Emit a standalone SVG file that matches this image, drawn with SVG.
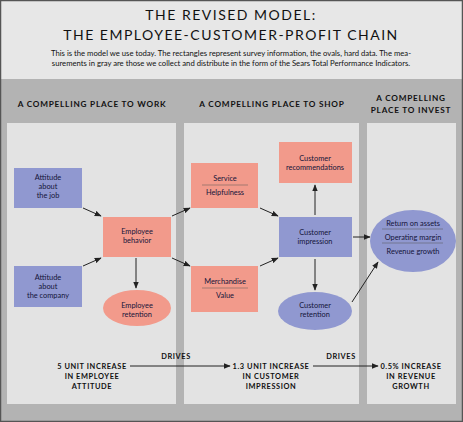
<svg xmlns="http://www.w3.org/2000/svg" width="463" height="422" viewBox="0 0 463 422">
<defs>
<marker id="ah" viewBox="0 0 10 10" refX="9" refY="5" markerWidth="7" markerHeight="7" orient="auto" markerUnits="userSpaceOnUse">
<path d="M0,1 L10,5 L0,9 z" fill="#222"/>
</marker>
<style>
.t{font-family:"Lato","Open Sans","DejaVu Sans",sans-serif;fill:#111;text-anchor:middle}
.title{font-size:14px;letter-spacing:1.5px}
.para{font-size:7.7px;text-anchor:middle}
.head{font-size:8.2px;font-weight:bold;letter-spacing:0.8px}
.nd{font-size:7.4px;fill:#14143a}
.big{font-size:7.4px;font-weight:bold;letter-spacing:0.6px}
.blue{fill:#9098d0}
.sal{fill:#f29a8b}
.panel{fill:#e3e3e3}
.con{stroke:#222;stroke-width:1;fill:none;marker-end:url(#ah)}
.sep{stroke:#555;stroke-width:0.5}
</style>
</defs>
<rect x="0" y="0" width="463" height="422" fill="#e7e7e7"/>
<rect x="0" y="79" width="463" height="343" fill="#b3b3b3"/>
<rect x="0.5" y="0.5" width="462" height="421" fill="none" stroke="#555" stroke-width="1.5"/>
<text class="t title" x="231" y="20">THE REVISED MODEL:</text>
<text class="t title" x="231" y="40">THE EMPLOYEE-CUSTOMER-PROFIT CHAIN</text>
<text class="t para" x="231" y="56">This is the model we use today. The rectangles represent survey information, the ovals, hard data. The mea-</text>
<text class="t para" x="231" y="66">surements in gray are those we collect and distribute in the form of the Sears Total Performance Indicators.</text>
<text class="t head" x="92" y="107">A COMPELLING PLACE TO WORK</text>
<text class="t head" x="272" y="107">A COMPELLING PLACE TO SHOP</text>
<text class="t head" x="411" y="101">A COMPELLING</text>
<text class="t head" x="411" y="113">PLACE TO INVEST</text>
<rect class="panel" x="7" y="123" width="169" height="281"/>
<rect class="panel" x="184" y="123" width="175" height="281"/>
<rect class="panel" x="367" y="123" width="89" height="281"/>
<g id="connectors">
<line class="con" x1="83" y1="208" x2="101" y2="216"/>
<line class="con" x1="83" y1="266" x2="101" y2="258"/>
<line class="con" x1="172" y1="216" x2="190" y2="208"/>
<line class="con" x1="172" y1="258" x2="190" y2="266"/>
<line class="con" x1="136" y1="258" x2="136" y2="288"/>
<line class="con" x1="260" y1="208" x2="278" y2="216"/>
<line class="con" x1="260" y1="266" x2="278" y2="258"/>
<line class="con" x1="315" y1="215" x2="315" y2="185"/>
<line class="con" x1="315" y1="259" x2="315" y2="290"/>
<line class="con" x1="353" y1="237" x2="370" y2="237"/>
<line class="con" x1="352" y1="302" x2="378" y2="262"/>
<line class="con" x1="130" y1="366" x2="230" y2="366"/>
<line class="con" x1="313" y1="366" x2="378" y2="366"/>
</g>
<g id="job"><rect class="blue" x="14" y="168" width="68" height="40"/>
<text class="t nd" x="48" y="180">Attitude</text><text class="t nd" x="48" y="189">about</text><text class="t nd" x="48" y="198">the job</text></g>
<g id="company"><rect class="blue" x="14" y="266" width="68" height="41"/>
<text class="t nd" x="48" y="280">Attitude</text><text class="t nd" x="48" y="289">about</text><text class="t nd" x="48" y="298">the company</text></g>
<g id="behavior"><rect class="sal" x="103" y="217" width="68" height="40"/>
<text class="t nd" x="137" y="234">Employee</text><text class="t nd" x="137" y="243">behavior</text></g>
<g id="eretention"><ellipse class="sal" cx="137" cy="308" rx="34" ry="18"/>
<text class="t nd" x="137" y="308">Employee</text><text class="t nd" x="137" y="317">retention</text></g>
<g id="service"><rect class="sal" x="191" y="163" width="67" height="45"/>
<text class="t nd" x="225" y="181">Service</text><line class="sep" x1="202" y1="185" x2="248" y2="185"/><text class="t nd" x="225" y="195">Helpfulness</text></g>
<g id="merch"><rect class="sal" x="191" y="266" width="67" height="46"/>
<text class="t nd" x="225" y="284">Merchandise</text><line class="sep" x1="202" y1="288" x2="248" y2="288"/><text class="t nd" x="225" y="298">Value</text></g>
<g id="recs"><rect class="sal" x="279" y="142" width="73" height="41"/>
<text class="t nd" x="315" y="161">Customer</text><text class="t nd" x="315" y="170">recommendations</text></g>
<g id="impression"><rect class="blue" x="279" y="217" width="73" height="40"/>
<text class="t nd" x="315" y="235">Customer</text><text class="t nd" x="315" y="244">impression</text></g>
<g id="cretention"><ellipse class="blue" cx="315" cy="311" rx="37" ry="19"/>
<text class="t nd" x="315" y="308">Customer</text><text class="t nd" x="315" y="317">retention</text></g>
<g id="invest"><ellipse class="blue" cx="413" cy="241" rx="43" ry="31"/>
<text class="t nd" x="413" y="226">Return on assets</text><line class="sep" x1="382" y1="229" x2="443" y2="229"/>
<text class="t nd" x="413" y="240">Operating margin</text><line class="sep" x1="382" y1="243" x2="443" y2="243"/>
<text class="t nd" x="413" y="254">Revenue growth</text></g>
<g id="bottom">
<text class="t big" x="176" y="359">DRIVES</text>
<text class="t big" x="341" y="359">DRIVES</text>
<text class="t big" x="92" y="369">5 UNIT INCREASE</text><text class="t big" x="92" y="379">IN EMPLOYEE</text><text class="t big" x="92" y="389">ATTITUDE</text>
<text class="t big" x="271" y="369">1.3 UNIT INCREASE</text><text class="t big" x="271" y="379">IN CUSTOMER</text><text class="t big" x="271" y="389">IMPRESSION</text>
<text class="t big" x="411" y="369">0.5% INCREASE</text><text class="t big" x="411" y="379">IN REVENUE</text><text class="t big" x="411" y="389">GROWTH</text>
</g>
</svg>
